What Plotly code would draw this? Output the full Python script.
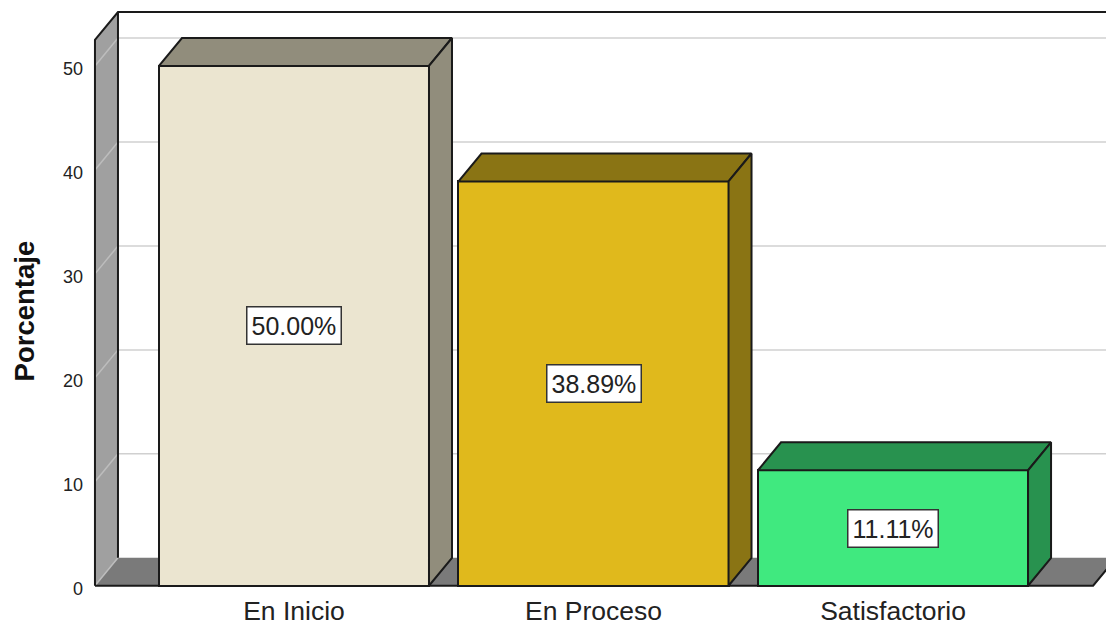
import plotly.graph_objects as go

categories = ['En Inicio', 'En Proceso', 'Satisfactorio']
porcentajes = [50.00, 38.89, 11.11]
y_ticks = [0, 10, 20, 30, 40, 50]

front_colors = ['#ebe5d0', '#e0b91c', '#40e97f']
side_colors = ['#918d7c', '#8a7414', '#28924f']
outline = '#1a1a1a'

bar_width = 0.9015
depth_x = 0.0768  # 3d offset of the box
depth_y = 2.69
wall_x = -0.6644
floor_end = 2.668
wall_top = 52.5
x_range = [-0.681, 2.711]
y_range = [-0.6, 55.48]


def poly(xs, ys, fill, line_color=None, xaxis='x', yaxis='y'):
    return go.Scatter(x=xs + xs[:1], y=ys + ys[:1], mode='lines', fill='toself', fillcolor=fill,
                      line=dict(color=line_color or fill, width=2 if line_color else 0),
                      hoverinfo='skip', showlegend=False, xaxis=xaxis, yaxis=yaxis)


def seg(xs, ys, color, width=2):
    return go.Scatter(x=xs, y=ys, mode='lines', line=dict(color=color, width=width),
                      hoverinfo='skip', showlegend=False)


fig = go.Figure()

# floor and left wall
fig.add_trace(poly([wall_x, wall_x + depth_x, floor_end + depth_x, floor_end], [0, depth_y, depth_y, 0], '#7a7a7a'))
fig.add_trace(poly([wall_x, wall_x + depth_x, wall_x + depth_x, wall_x],
                   [0, depth_y, wall_top + depth_y, wall_top], '#a0a0a0'))

# grid on the back wall and its diagonal on the side wall
for t in y_ticks:
    if t > 0:
        fig.add_trace(seg([wall_x + depth_x, x_range[1]], [t + depth_y, t + depth_y], '#d0d0d0', 1.5))
    fig.add_trace(seg([wall_x, wall_x + depth_x], [t, t + depth_y], '#bdbdbd', 1.5))

# frame
fig.add_trace(seg([wall_x, wall_x, wall_x + depth_x, x_range[1]],
                  [0, wall_top, wall_top + depth_y, wall_top + depth_y], outline))
fig.add_trace(seg([wall_x + depth_x, wall_x + depth_x], [depth_y, wall_top + depth_y], outline))
fig.add_trace(seg([wall_x, floor_end, floor_end + depth_x], [0, 0, depth_y], outline))

# bars, on the overlaid axes so they sit above the floor
fig.add_trace(go.Bar(x=[0, 1, 2], y=porcentajes, width=bar_width, xaxis='x2', yaxis='y2',
                     marker=dict(color=front_colors, line=dict(color=outline, width=2)),
                     hovertemplate='%{text}<br>%{y:.2f}%<extra></extra>', text=categories,
                     textposition='none', showlegend=False))

for i, v in enumerate(porcentajes):
    x0 = i - bar_width / 2
    x1 = i + bar_width / 2
    fig.add_trace(poly([x0, x0 + depth_x, x1 + depth_x, x1], [v, v + depth_y, v + depth_y, v],
                       side_colors[i], outline, 'x2', 'y2'))
    fig.add_trace(poly([x1, x1 + depth_x, x1 + depth_x, x1], [0, depth_y, v + depth_y, v],
                       side_colors[i], outline, 'x2', 'y2'))
    fig.add_annotation(x=i, y=v / 2, xref='x', yref='y', text=f'{v:.2f}%', showarrow=False,
                       font=dict(size=25, color='#222222'), bgcolor='white', bordercolor='#333333',
                       borderwidth=1.5, borderpad=4)

fig.add_annotation(x=(24 - 90) / 1016, y=(591.74 - 311) / 583.24, xref='paper', yref='paper',
                   xanchor='center', yanchor='middle', text='<b>Porcentaje</b>', showarrow=False,
                   textangle=-90, font=dict(size=27.5, color='#111111'))

fig.update_layout(
    width=1106, height=624, autosize=False, margin=dict(l=90, r=0, t=8.5, b=32.26, pad=0),
    plot_bgcolor='white', paper_bgcolor='white', font=dict(family='Liberation Sans', color='#222222'),
    bargap=0,
    xaxis=dict(range=x_range, tickmode='array', tickvals=[0, 1, 2], ticktext=categories, showgrid=False,
               zeroline=False, showline=False, ticks='', tickfont=dict(size=26.5), automargin=False),
    yaxis=dict(range=y_range, tickmode='array', tickvals=y_ticks, showgrid=False, zeroline=False,
               showline=False, ticks='', tickfont=dict(size=18), automargin=False,
               ticklabelshift=3, ticklabelstandoff=6),
    xaxis2=dict(range=x_range, overlaying='x', visible=False),
    yaxis2=dict(range=y_range, overlaying='y', visible=False),
)

fig.write_html('out.html', config=dict(displayModeBar=False), post_script="document.body.style.margin='0';")
